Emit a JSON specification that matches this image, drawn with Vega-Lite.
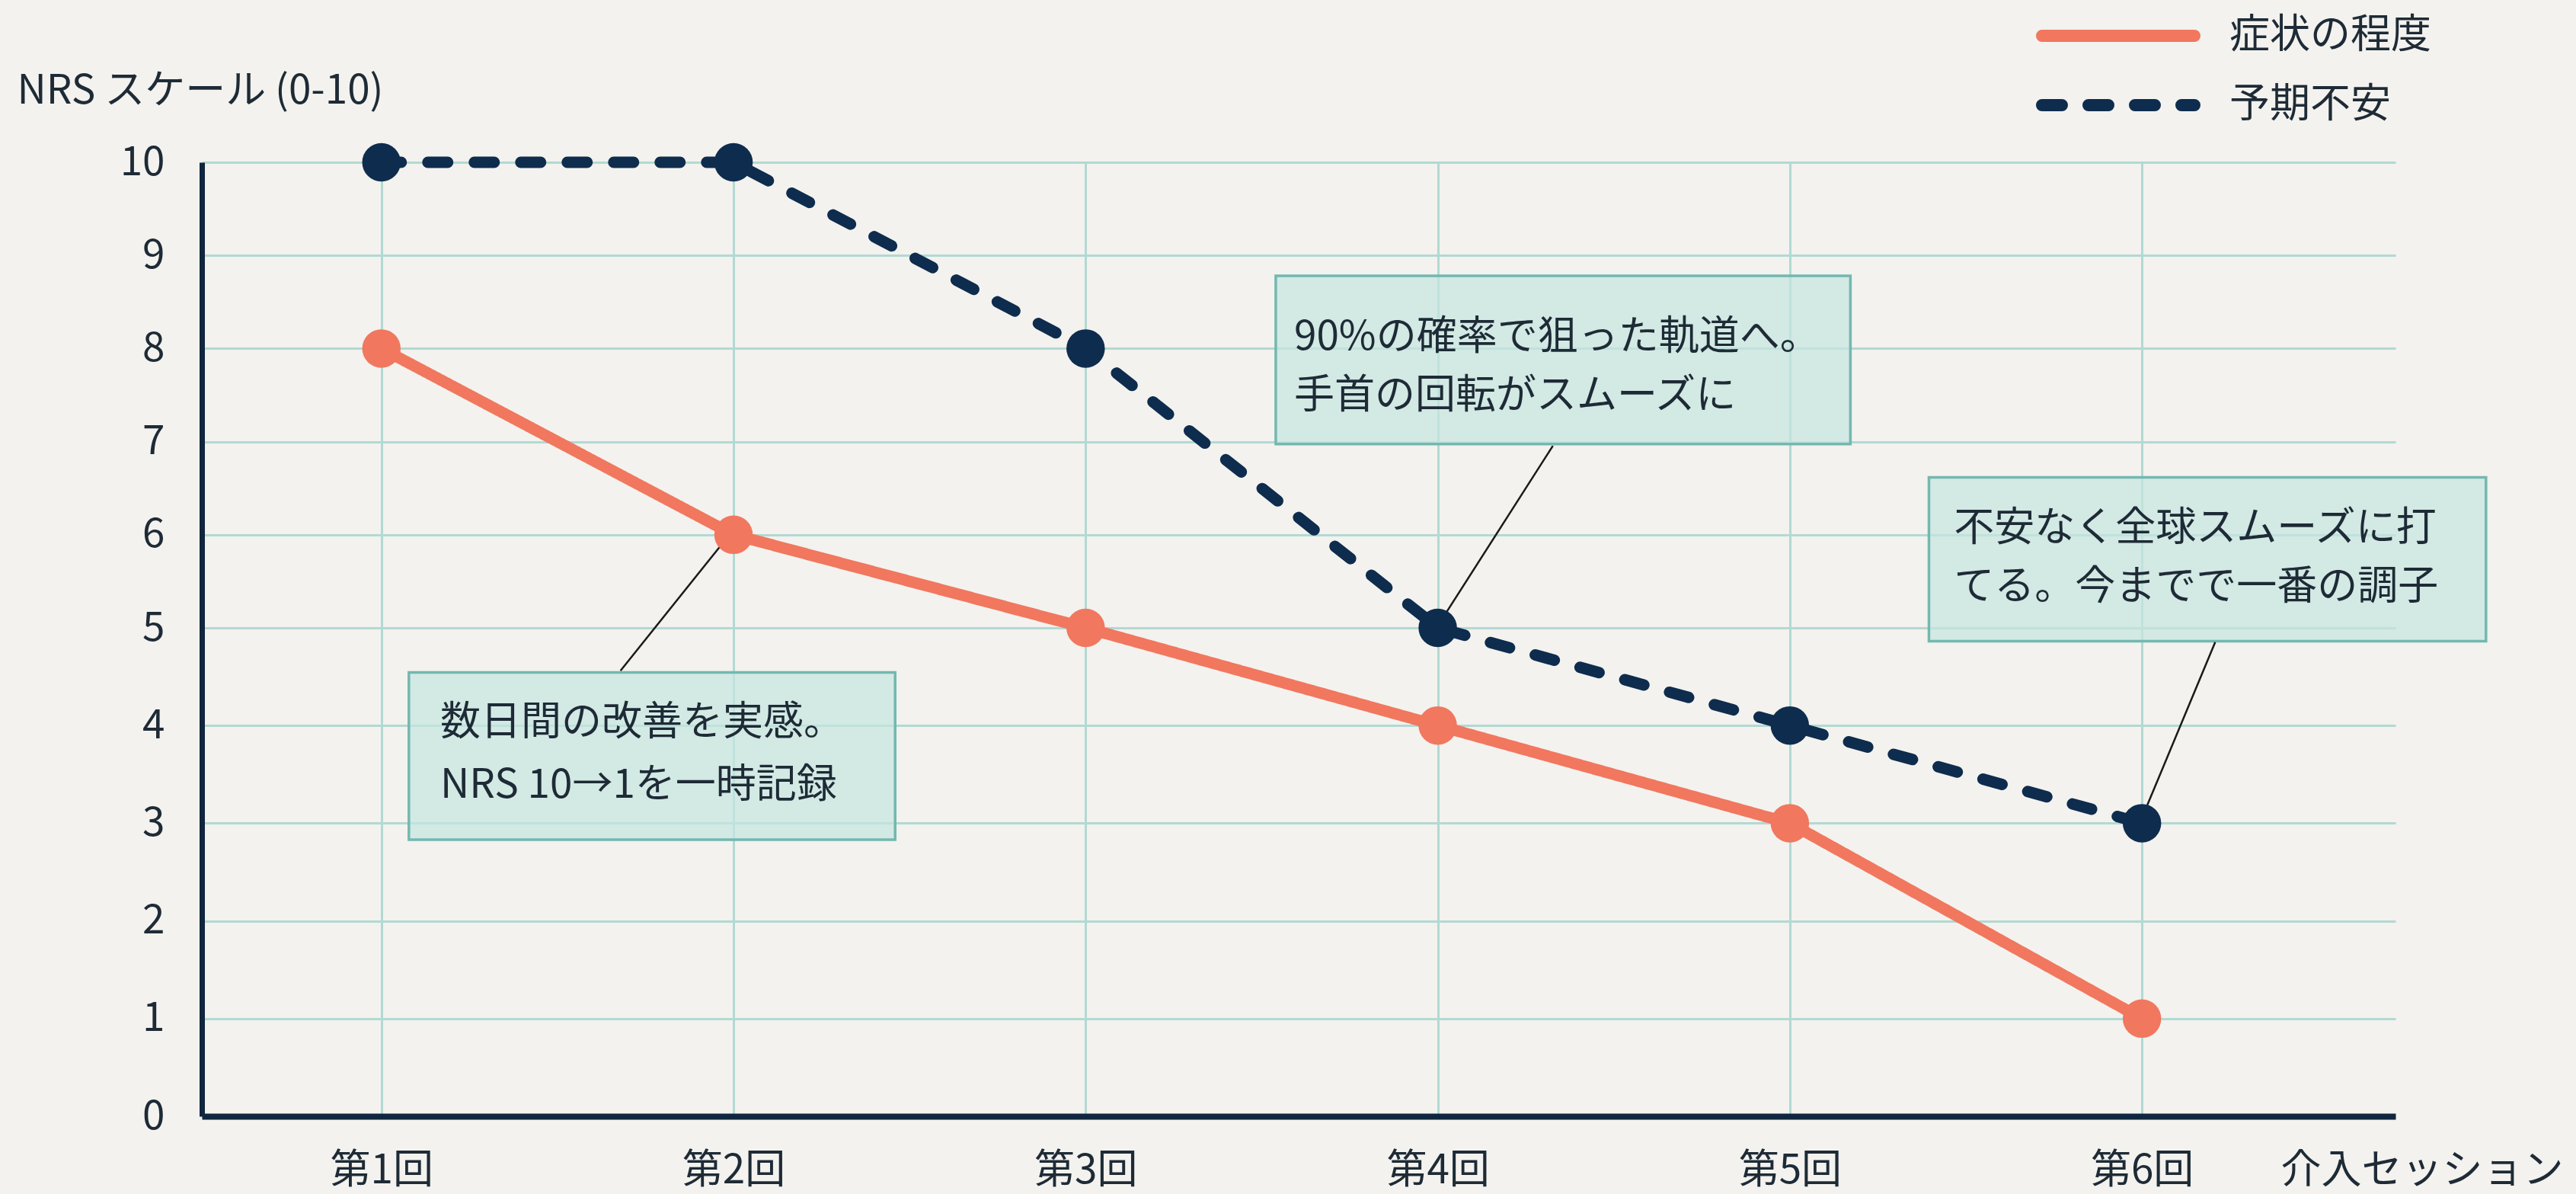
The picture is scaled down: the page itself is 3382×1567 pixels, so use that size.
{
  "$schema": "https://vega.github.io/schema/vega-lite/v6.json",
  "width": 2880,
  "height": 1252,
  "autosize": {"type": "none"},
  "padding": {"left": 265, "top": 213, "right": 237, "bottom": 102},
  "background": "#F3F2EE",
  "config": {"view": {"stroke": null}, "font": "Noto Sans CJK JP"},
  "datasets": {
    "series": [
      {"x": 1, "y": 8, "series": "症状の程度"},
      {"x": 2, "y": 6, "series": "症状の程度"},
      {"x": 3, "y": 5, "series": "症状の程度"},
      {"x": 4, "y": 4, "series": "症状の程度"},
      {"x": 5, "y": 3, "series": "症状の程度"},
      {"x": 6, "y": 1, "series": "症状の程度"},
      {"x": 1, "y": 10, "series": "予期不安"},
      {"x": 2, "y": 10, "series": "予期不安"},
      {"x": 3, "y": 8, "series": "予期不安"},
      {"x": 4, "y": 5, "series": "予期不安"},
      {"x": 5, "y": 4, "series": "予期不安"},
      {"x": 6, "y": 3, "series": "予期不安"}
    ],
    "boxes": [
      {"x": 1.078, "x2": 2.459, "y": 4.544, "y2": 2.832},
      {"x": 3.54, "x2": 5.172, "y": 8.78, "y2": 6.975},
      {"x": 5.395, "x2": 6.977, "y": 6.616, "y2": 4.863}
    ],
    "notes": [
      {"x": 1.167, "y": 4.023, "text": "数日間の改善を実感。"},
      {"x": 1.167, "y": 3.389, "text": "NRS 10→1を一時記録"},
      {"x": 3.592, "y": 8.12, "text": "90%の確率で狙った軌道へ。"},
      {"x": 3.592, "y": 7.49, "text": "手首の回転がスムーズに"},
      {"x": 5.466, "y": 6.06, "text": "不安なく全球スムーズに打"},
      {"x": 5.466, "y": 5.43, "text": "てる。今までで一番の調子"}
    ],
    "links": [
      {"x": 1.679, "y": 4.561, "x2": 1.969, "y2": 5.909},
      {"x": 4.327, "y": 6.955, "x2": 4.02, "y2": 5.14},
      {"x": 6.208, "y": 4.853, "x2": 6.015, "y2": 3.184}
    ]
  },
  "encoding": {
    "x": {
      "field": "x",
      "type": "quantitative",
      "scale": {"domain": [0.49, 6.72], "nice": false, "zero": false},
      "axis": {
        "values": [1, 2, 3, 4, 5, 6],
        "labelExpr": "'第' + datum.value + '回'",
        "title": "介入セッション",
        "grid": true,
        "gridColor": "#B2D9D3",
        "gridWidth": 3,
        "ticks": false,
        "tickSize": 0,
        "labelPadding": 71,
        "labelBaseline": "middle",
        "labelFontSize": 53,
        "labelColor": "#1E2B36",
        "labelFlush": false,
        "labelOverlap": false,
        "domainColor": "#10263F",
        "domainWidth": 8,
        "titleX": 2729,
        "titleY": 71,
        "titleAlign": "left",
        "titleBaseline": "middle",
        "titleFontSize": 53,
        "titleFontWeight": "normal",
        "titleColor": "#1E2B36"
      }
    },
    "y": {
      "field": "y",
      "type": "quantitative",
      "scale": {"domain": [0, 5, 10], "range": [1252, 611, 0], "nice": false},
      "axis": {
        "values": [0, 1, 2, 3, 4, 5, 6, 7, 8, 9, 10],
        "grid": true,
        "gridColor": "#B2D9D3",
        "gridWidth": 3,
        "ticks": false,
        "tickSize": 0,
        "labelPadding": 49,
        "labelFontSize": 53,
        "labelColor": "#1E2B36",
        "domainColor": "#10263F",
        "domainWidth": 7,
        "title": "NRS スケール (0-10)",
        "titleAngle": 0,
        "titleX": -243,
        "titleY": -94,
        "titleAlign": "left",
        "titleBaseline": "middle",
        "titleFontSize": 53,
        "titleFontWeight": "normal",
        "titleColor": "#1E2B36"
      }
    }
  },
  "layer": [
    {
      "data": {"name": "boxes"},
      "mark": {"type": "rect", "fill": "#C5E5E0", "fillOpacity": 0.7, "stroke": "#73B8B0", "strokeWidth": 3.5},
      "encoding": {"x2": {"field": "x2"}, "y2": {"field": "y2"}}
    },
    {
      "data": {"name": "notes"},
      "mark": {"type": "text", "align": "left", "baseline": "middle", "fontSize": 53, "color": "#1E2B36"},
      "encoding": {"text": {"field": "text"}}
    },
    {
      "data": {"name": "links"},
      "mark": {"type": "rule", "color": "#1A1A1A", "strokeWidth": 2.5},
      "encoding": {"x2": {"field": "x2"}, "y2": {"field": "y2"}}
    },
    {
      "data": {"name": "series"},
      "mark": {"type": "line", "strokeWidth": 15, "strokeCap": "round", "strokeJoin": "round"},
      "encoding": {
        "color": {
          "field": "series",
          "type": "nominal",
          "scale": {"domain": ["症状の程度", "予期不安"], "range": ["#F1775F", "#0E2C4D"]},
          "legend": {
            "title": null,
            "orient": "none",
            "legendX": 2408,
            "legendY": -206,
            "padding": 0,
            "symbolType": "stroke",
            "symbolSize": 40000,
            "symbolStrokeWidth": 16,
            "clipHeight": 80,
            "rowPadding": 11,
            "labelFontSize": 53,
            "labelLimit": 0,
            "labelOffset": 38,
            "labelColor": "#1E2B36",
            "encode": {"symbols": {"update": {"strokeCap": {"value": "round"}}}}
          }
        },
        "strokeDash": {
          "field": "series",
          "type": "nominal",
          "scale": {"domain": ["症状の程度", "予期不安"], "range": [[1, 0], [26, 35]]},
          "legend": {
            "title": null,
            "orient": "none",
            "legendX": 2408,
            "legendY": -206,
            "padding": 0,
            "symbolType": "stroke",
            "symbolSize": 40000,
            "symbolStrokeWidth": 16,
            "clipHeight": 80,
            "rowPadding": 11,
            "labelFontSize": 53,
            "labelLimit": 0,
            "labelOffset": 38,
            "labelColor": "#1E2B36",
            "encode": {"symbols": {"update": {"strokeCap": {"value": "round"}}}}
          }
        }
      }
    },
    {
      "data": {"name": "series"},
      "mark": {"type": "circle", "size": 2550, "opacity": 1},
      "encoding": {
        "color": {"field": "series", "type": "nominal", "legend": null}
      }
    }
  ]
}
